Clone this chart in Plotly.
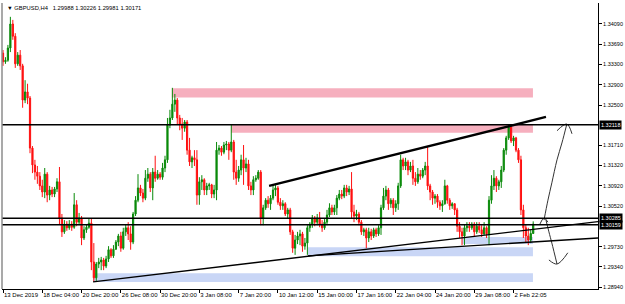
import plotly.graph_objects as go

# ---------------- data (GBPUSD H4) ----------------
first_open = 1.3352
close = [
    1.3335, 1.3338, 1.3362, 1.3409, 1.3385, 1.3331, 1.3348, 1.3327, 1.3260, 1.3276,
    1.3264, 1.3166, 1.3133, 1.3119, 1.3111, 1.3092, 1.3080, 1.3115, 1.3074, 1.3084,
    1.3076, 1.3086, 1.3100, 1.3029, 1.3002, 1.3017, 1.3010, 1.3017, 1.3011, 1.3055,
    1.3021, 1.3029, 1.2990, 1.3006, 1.3011, 1.3019, 1.2943, 1.2912, 1.2939, 1.2943,
    1.2947, 1.2935, 1.2949, 1.2967, 1.2955, 1.2968, 1.2982, 1.2994, 1.2970, 1.3002,
    1.3010, 1.2998, 1.2982, 1.3037, 1.3064, 1.3088, 1.3078, 1.3068, 1.3107, 1.3115,
    1.3088, 1.3119, 1.3107, 1.3115, 1.3109, 1.3127, 1.3143, 1.3211, 1.3225, 1.3252,
    1.3260, 1.3225, 1.3213, 1.3205, 1.3217, 1.3162, 1.3139, 1.3147, 1.3143, 1.3074,
    1.3100, 1.3104, 1.3084, 1.3092, 1.3094, 1.3076, 1.3084, 1.3162, 1.3166, 1.3158,
    1.3172, 1.3174, 1.3162, 1.3178, 1.3119, 1.3107, 1.3123, 1.3143, 1.3127, 1.3135,
    1.3092, 1.3084, 1.3104, 1.3107, 1.3119, 1.3029, 1.3049, 1.3064, 1.3057, 1.3068,
    1.3084, 1.3088, 1.3060, 1.3053, 1.3057, 1.3037, 1.3045, 1.3002, 1.2970, 1.2986,
    1.2994, 1.2998, 1.2974, 1.2980, 1.3010, 1.3017, 1.3029, 1.3021, 1.3029, 1.3017,
    1.3010, 1.3021, 1.3035, 1.3049, 1.3041, 1.3049, 1.3068, 1.3076, 1.3072, 1.3088,
    1.3080, 1.3086, 1.3041, 1.3033, 1.3037, 1.3021, 1.3002, 1.3006, 1.2990, 1.3002,
    1.2994, 1.3006, 1.2998, 1.3010, 1.3049, 1.3072, 1.3084, 1.3057, 1.3064, 1.3049,
    1.3057, 1.3092, 1.3143, 1.3131, 1.3139, 1.3123, 1.3131, 1.3107, 1.3100, 1.3115,
    1.3111, 1.3123, 1.3131, 1.3092, 1.3080, 1.3068, 1.3072, 1.3060, 1.3053, 1.3057,
    1.3092, 1.3064, 1.3053, 1.3057, 1.3045, 1.3013, 1.3002, 1.2994, 1.3010, 1.3013,
    1.3010, 1.3017, 1.3002, 1.3013, 1.3006, 1.2998, 1.3010, 1.2998, 1.3064, 1.3092,
    1.3107, 1.3092, 1.3100, 1.3123, 1.3162, 1.3186, 1.3207, 1.3180, 1.3186, 1.3162,
    1.3143, 1.3045, 1.3010, 1.2994, 1.2986, 1.29988, 1.30171,
]
high = [
    1.3358, 1.3344, 1.3368, 1.3423, 1.3417, 1.3391, 1.3354, 1.3358, 1.3331, 1.3299,
    1.3292, 1.3268, 1.3170, 1.3143, 1.3131, 1.3119, 1.3104, 1.3127, 1.3119, 1.3092,
    1.3090, 1.3090, 1.3107, 1.3129, 1.3037, 1.3025, 1.3023, 1.3025, 1.3023, 1.3078,
    1.3064, 1.3039, 1.3033, 1.3013, 1.3017, 1.3029, 1.3029, 1.2980, 1.2943, 1.2951,
    1.2953, 1.2951, 1.2955, 1.2974, 1.2970, 1.2976, 1.2986, 1.2998, 1.3002, 1.3010,
    1.3017, 1.3021, 1.3013, 1.3041, 1.3072, 1.3115, 1.3094, 1.3086, 1.3123, 1.3127,
    1.3119, 1.3127, 1.3151, 1.3123, 1.3119, 1.3137, 1.3151, 1.3225, 1.3241, 1.3284,
    1.3272, 1.3264, 1.3231, 1.3225, 1.3221, 1.3221, 1.3186, 1.3151, 1.3162, 1.3162,
    1.3109, 1.3113, 1.3107, 1.3098, 1.3098, 1.3096, 1.3094, 1.3178, 1.3172, 1.3170,
    1.3178, 1.3180, 1.3178, 1.3213, 1.3182, 1.3143, 1.3131, 1.3153, 1.3172, 1.3147,
    1.3143, 1.3100, 1.3111, 1.3113, 1.3123, 1.3123, 1.3055, 1.3068, 1.3072, 1.3074,
    1.3094, 1.3094, 1.3092, 1.3068, 1.3064, 1.3060, 1.3049, 1.3049, 1.3006, 1.2996,
    1.3002, 1.3006, 1.3002, 1.2990, 1.3015, 1.3021, 1.3035, 1.3033, 1.3037, 1.3041,
    1.3025, 1.3027, 1.3045, 1.3058, 1.3055, 1.3055, 1.3074, 1.3084, 1.3084, 1.3094,
    1.3094, 1.3092, 1.3119, 1.3055, 1.3045, 1.3041, 1.3025, 1.3010, 1.3010, 1.3010,
    1.3008, 1.3010, 1.3010, 1.3015, 1.3055, 1.3088, 1.3092, 1.3088, 1.3068, 1.3068,
    1.3064, 1.3098, 1.3153, 1.3147, 1.3147, 1.3143, 1.3139, 1.3143, 1.3119, 1.3127,
    1.3123, 1.3127, 1.3139, 1.3168, 1.3096, 1.3084, 1.3076, 1.3076, 1.3064, 1.3064,
    1.3104, 1.3094, 1.3068, 1.3060, 1.3058, 1.3049, 1.3021, 1.3010, 1.3017, 1.3021,
    1.3021, 1.3021, 1.3021, 1.3021, 1.3021, 1.3015, 1.3021, 1.3013, 1.3072, 1.3113,
    1.3123, 1.3111, 1.3104, 1.3131, 1.3166, 1.3190, 1.3213, 1.3209, 1.3190, 1.3188,
    1.3166, 1.3151, 1.3055, 1.3017, 1.3010, 1.3006, 1.30226,
]
low = [
    1.3327, 1.3331, 1.3335, 1.3354, 1.3378, 1.3323, 1.3327, 1.3319, 1.3245, 1.3254,
    1.3252, 1.3156, 1.3117, 1.3104, 1.3096, 1.3084, 1.3070, 1.3068, 1.3060, 1.3064,
    1.3070, 1.3070, 1.3080, 1.3017, 1.2992, 1.2998, 1.3004, 1.3006, 1.3004, 1.3008,
    1.3013, 1.3015, 1.2976, 1.2986, 1.3000, 1.3008, 1.2927, 1.2904, 1.2906, 1.2931,
    1.2927, 1.2927, 1.2931, 1.2943, 1.2951, 1.2951, 1.2967, 1.2974, 1.2963, 1.2967,
    1.2994, 1.2986, 1.2967, 1.2978, 1.3033, 1.3060, 1.3072, 1.3060, 1.3064, 1.3100,
    1.3080, 1.3064, 1.3100, 1.3104, 1.3104, 1.3104, 1.3119, 1.3137, 1.3205, 1.3221,
    1.3237, 1.3213, 1.3201, 1.3182, 1.3198, 1.3153, 1.3131, 1.3127, 1.3131, 1.3055,
    1.3055, 1.3084, 1.3074, 1.3074, 1.3084, 1.3068, 1.3068, 1.3064, 1.3153, 1.3151,
    1.3154, 1.3162, 1.3143, 1.3158, 1.3104, 1.3094, 1.3100, 1.3113, 1.3094, 1.3119,
    1.3084, 1.3074, 1.3074, 1.3100, 1.3104, 1.3015, 1.3015, 1.3045, 1.3049, 1.3045,
    1.3064, 1.3072, 1.3055, 1.3045, 1.3045, 1.3033, 1.3029, 1.2996, 1.2961, 1.2957,
    1.2978, 1.2976, 1.2963, 1.2967, 1.2957, 1.3002, 1.3010, 1.3013, 1.3015, 1.3011,
    1.3002, 1.3006, 1.3015, 1.3031, 1.3035, 1.3035, 1.3035, 1.3064, 1.3066, 1.3068,
    1.3072, 1.3074, 1.3029, 1.3021, 1.3025, 1.3015, 1.2996, 1.2994, 1.2970, 1.2982,
    1.2986, 1.2990, 1.2992, 1.2994, 1.2996, 1.3045, 1.3064, 1.3045, 1.3049, 1.3035,
    1.3041, 1.3045, 1.3088, 1.3123, 1.3123, 1.3113, 1.3119, 1.3094, 1.3092, 1.3096,
    1.3104, 1.3107, 1.3113, 1.3084, 1.3064, 1.3055, 1.3057, 1.3049, 1.3045, 1.3041,
    1.3055, 1.3057, 1.3045, 1.3047, 1.3035, 1.3002, 1.2990, 1.2976, 1.2976, 1.3002,
    1.3002, 1.3006, 1.2992, 1.2998, 1.3000, 1.2992, 1.2996, 1.2990, 1.2976, 1.3057,
    1.3084, 1.3080, 1.3084, 1.3088, 1.3119, 1.3153, 1.3182, 1.3176, 1.3170, 1.3158,
    1.3137, 1.3035, 1.2990, 1.2982, 1.2976, 1.2980, 1.29981,
]
open_ = [first_open] + close[:-1]
bars = list(range(len(close)))

tick_bars = [0, 16, 32, 48, 64, 80, 96, 112, 128, 144, 160, 176, 192, 208]
tick_text = ["13 Dec 2019", "18 Dec 04:00", "20 Dec 20:00", "26 Dec 08:00",
             "30 Dec 20:00", "3 Jan 08:00", "7 Jan 20:00", "10 Jan 12:00",
             "15 Jan 00:00", "17 Jan 16:00", "22 Jan 04:00", "24 Jan 20:00",
             "29 Jan 08:00", "2 Feb 22:05"]

price_ticks = [1.34090, 1.33690, 1.33300, 1.32900, 1.32500, 1.31710,
               1.31320, 1.30920, 1.30520, 1.29730, 1.29340, 1.28940]
level_lines = [1.32118, 1.30285, 1.30159]

# zones: (bar_start, bar_end, price_low, price_high)
supply_zones = [(68.8, 215.9, 1.3265, 1.3283), (92.9, 215.9, 1.3196, 1.3212)]
demand_zones = [(124.2, 215.9, 1.2954, 1.2972), (187.0, 215.9, 1.2978, 1.2992),
                (36.7, 215.9, 1.2904, 1.2921)]
# trend lines: (bar0, price0, bar1, price1, width)
trend_lines = [(108.4, 1.3092, 221.2, 1.3227, 2.4),
               (36.7, 1.2904, 242.4, 1.3022, 1.4),
               (124.2, 1.2955, 242.4, 1.2990, 1.4)]
# hand-drawn arrows (bar, price)
arrow_up_bar = [220.4, 222.0, 223.6, 225.7, 227.7, 229.7]
arrow_up_price = [1.3025, 1.3064, 1.3098, 1.3143, 1.3176, 1.3213]
arrow_up_head_bar = [225.7, 229.7, 231.8]
arrow_up_head_price = [1.3200, 1.3213, 1.3194]
arrow_dn_bar = [221.2, 222.4, 223.6, 225.7]
arrow_dn_price = [1.3025, 1.3002, 1.2980, 1.2939]
arrow_dn_head_bar = [222.4, 225.7, 230.1]
arrow_dn_head_price = [1.2947, 1.2939, 1.2961]
curl_bar = [218.7, 220.4, 222.0]
curl_price = [1.3017, 1.3029, 1.3021]

FONT = "Liberation Sans"

fig = go.Figure()
fig.add_trace(go.Candlestick(
    x=bars, open=open_, high=high, low=low, close=close,
    increasing=dict(line=dict(color="#0A8A0A", width=1), fillcolor="#0A8A0A"),
    decreasing=dict(line=dict(color="#FF1010", width=1), fillcolor="#FF1010"),
    whiskerwidth=0, hoverinfo="skip", showlegend=False))

for bx, py in [(arrow_up_bar, arrow_up_price), (arrow_up_head_bar, arrow_up_head_price),
               (arrow_dn_bar, arrow_dn_price), (arrow_dn_head_bar, arrow_dn_head_price),
               (curl_bar, curl_price)]:
    fig.add_trace(go.Scatter(x=bx, y=py, mode="lines",
                             line=dict(color="#333333", width=1, shape="spline"),
                             hoverinfo="skip", showlegend=False))

shapes = []
for b0, b1, p0, p1 in supply_zones:
    shapes.append(dict(type="rect", xref="x", yref="y", x0=b0, x1=b1, y0=p0, y1=p1,
                       fillcolor="#F6AFBE", line=dict(width=0), layer="below"))
for b0, b1, p0, p1 in demand_zones:
    shapes.append(dict(type="rect", xref="x", yref="y", x0=b0, x1=b1, y0=p0, y1=p1,
                       fillcolor="#C9D6F6", line=dict(width=0), layer="below"))
for lv in level_lines:
    shapes.append(dict(type="line", xref="paper", yref="y", x0=0, x1=1, y0=lv, y1=lv,
                       line=dict(color="black", width=1.4)))
for b0, p0, b1, p1, w in trend_lines:
    shapes.append(dict(type="line", xref="x", yref="y", x0=b0, x1=b1, y0=p0, y1=p1,
                       line=dict(color="black", width=w)))
shapes.append(dict(type="line", xref="paper", yref="paper", x0=0, x1=0, y0=0, y1=1,
                   line=dict(color="#8C8C8C", width=1.5)))

annotations = [dict(xref="paper", yref="paper", x=0, y=1, xanchor="left", yanchor="middle",
                    xshift=3, yshift=-5, showarrow=False,
                    text="\u25BC GBPUSD,H4\u00a0\u00a0 1.29988 1.30226 1.29981 1.30171",
                    font=dict(family=FONT, size=5.8, color="black"))]
for lv in level_lines:
    annotations.append(dict(xref="paper", yref="y", x=1, y=lv, xanchor="left",
                            yanchor="middle", xshift=1, showarrow=False,
                            text=f"{lv:.5f}", bgcolor="black", borderpad=1,
                            font=dict(family=FONT, size=5.5, color="white")))

fig.update_layout(
    width=625, height=304,
    margin=dict(l=2, r=27, t=3, b=15),
    paper_bgcolor="white", plot_bgcolor="white",
    showlegend=False, shapes=shapes, annotations=annotations,
    xaxis=dict(range=[-0.41, 242.4], rangeslider=dict(visible=False),
               showgrid=False, zeroline=False, showline=True, linecolor="black",
               linewidth=1, ticks="outside", ticklen=3, tickcolor="black",
               tickvals=tick_bars, ticktext=tick_text, tickangle=0,
               ticklabelposition="outside right", automargin=False,
               tickfont=dict(family=FONT, size=6, color="black")),
    yaxis=dict(side="right", range=[1.28901, 1.34501], showgrid=False, zeroline=False,
               showline=True, linecolor="black", linewidth=1, ticks="outside",
               ticklen=3, tickcolor="black", tickvals=price_ticks,
               ticktext=[f"{v:.5f}" for v in price_ticks], automargin=False,
               tickfont=dict(family=FONT, size=5.5, color="black")),
)

fig.write_html("out.html")
